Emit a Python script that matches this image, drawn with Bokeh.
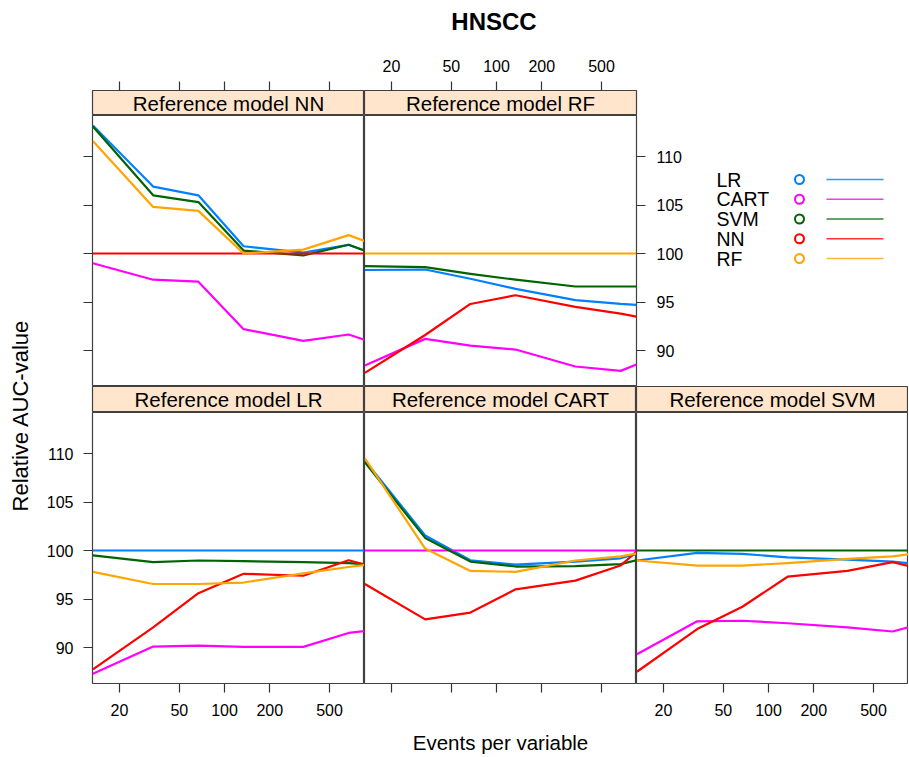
import math
from bokeh.plotting import figure
from bokeh.layouts import row, column
from bokeh.models import (Range1d, LogAxis, LinearAxis, FixedTicker,
                          PrintfTickFormatter, CustomJSTickFormatter,
                          ColumnDataSource)
from bokeh.core.properties import value
from bokeh.embed import file_html
from bokeh.resources import INLINE

FONT = "Liberation Sans"

# ---------------- data ----------------
epv = [13.3, 33.5, 67, 134, 335, 670, 855]          # events per variable
models = ["LR", "CART", "SVM", "NN", "RF"]
colors = ["#0080ff", "#ff00ff", "#006400", "#ff0000", "#ffa500"]
x_ticks = [20, 50, 100, 200, 500]
y_ticks = [90, 95, 100, 105, 110]

# Reference model NN
nn_LR   = [113.2, 106.9, 106.0, 100.75, 100.1, 100.9, 100.3]
nn_CART = [99.0, 97.3, 97.1, 92.2, 91.0, 91.65, 91.1]
nn_SVM  = [113.1, 106.0, 105.3, 100.3, 99.8, 100.9, 100.3]
nn_NN   = [100, 100, 100, 100, 100, 100, 100]
nn_RF   = [111.6, 104.8, 104.4, 100.0, 100.4, 101.9, 101.3]

# Reference model RF
rf_LR   = [98.3, 98.35, 97.4, 96.35, 95.2, 94.8, 94.7]
rf_CART = [88.45, 91.2, 90.5, 90.1, 88.35, 87.9, 88.55]
rf_SVM  = [98.7, 98.6, 97.9, 97.3, 96.6, 96.6, 96.6]
rf_NN   = [87.7, 91.6, 94.8, 95.7, 94.5, 93.8, 93.5]
rf_RF   = [100, 100, 100, 100, 100, 100, 100]

# Reference model LR
lr_LR   = [100, 100, 100, 100, 100, 100, 100]
lr_CART = [87.3, 90.1, 90.2, 90.07, 90.07, 91.5, 91.7]
lr_SVM  = [99.5, 98.8, 98.97, 98.9, 98.8, 98.7, 98.6]
lr_NN   = [87.75, 92.07, 95.6, 97.6, 97.4, 99.0, 98.55]
lr_RF   = [97.8, 96.55, 96.55, 96.7, 97.65, 98.3, 98.5]

# Reference model CART
cart_LR   = [109.3, 101.55, 99.0, 98.55, 98.86, 99.2, 99.65]
cart_CART = [100, 100, 100, 100, 100, 100, 100]
cart_SVM  = [109.1, 101.3, 98.86, 98.35, 98.4, 98.6, 99.0]
cart_NN   = [96.55, 92.9, 93.6, 96.0, 96.9, 98.45, 99.9]
cart_RF   = [109.5, 100.2, 97.9, 97.8, 98.97, 99.4, 99.7]

# Reference model SVM
svm_LR   = [98.97, 99.76, 99.66, 99.3, 99.07, 98.86, 98.7]
svm_CART = [89.3, 92.7, 92.76, 92.5, 92.07, 91.65, 92.1]
svm_SVM  = [100, 100, 100, 100, 100, 100, 100]
svm_NN   = [87.5, 91.9, 94.2, 97.3, 97.9, 98.8, 98.4]
svm_RF   = [98.97, 98.45, 98.45, 98.7, 99.14, 99.4, 99.6]

# ---------------- layout constants ----------------
X_LO, X_HI = 13.22, 855.0
Y_LO, Y_HI = 86.29, 114.23
FULL_W = 272
BORDER = "#404040"
STRIP_BG = "#ffe5cc"


def x_range(frame_w):
    end = X_LO * (X_HI / X_LO) ** (frame_w / FULL_W)
    return Range1d(X_LO, end)


def base_fig(w, h, xr, yr, log=True, bl=0, br=0, bt=0, bb=0):
    p = figure(width=w, height=h, x_range=xr, y_range=yr,
               x_axis_type="log" if log else "linear",
               x_axis_location=None, y_axis_location=None, title=None,
               toolbar_location=None, output_backend="svg",
               min_border_left=bl, min_border_right=br,
               min_border_top=bt, min_border_bottom=bb)
    p.grid.visible = False
    p.outline_line_color = BORDER
    p.outline_line_width = 1.2
    p.background_fill_color = "white"
    p.border_fill_color = "white"
    return p


def style_axis(ax, standoff):
    ax.major_tick_out = 9
    ax.major_tick_in = 0
    ax.minor_tick_out = 0
    ax.minor_tick_in = 0
    ax.axis_line_color = None
    ax.major_tick_line_color = "#333333"
    ax.major_tick_line_width = 1.2
    ax.major_label_text_font = FONT
    ax.major_label_text_color = "black"
    ax.major_label_text_font_size = "16px"
    ax.major_label_standoff = standoff


def fmt(labels):
    if labels:
        return PrintfTickFormatter(format="%d")
    return CustomJSTickFormatter(code="return ''")


def add_x_axis(p, place, labels, standoff=11):
    ax = LogAxis(ticker=FixedTicker(ticks=x_ticks), formatter=fmt(labels))
    style_axis(ax, standoff)
    p.add_layout(ax, place)


def add_y_axis(p, place, labels, standoff=10):
    ax = LinearAxis(ticker=FixedTicker(ticks=y_ticks), formatter=fmt(labels))
    style_axis(ax, standoff)
    p.add_layout(ax, place)


def strip_fig(name, w, fw, h, bl=0, br=0, bt=0):
    p = base_fig(w, h, x_range(fw), Range1d(0, 1), bl=bl, br=br, bt=bt)
    p.background_fill_color = STRIP_BG
    xm = math.sqrt(X_LO * X_HI)
    p.text(x=[xm], y=[0.5], text=["Reference model " + name],
           text_align="center", text_baseline="middle",
           text_font=value(FONT), text_font_size="20.5px", text_color="black")
    return p


def plot_fig(series, w, fw, h, bl=0, br=0, bb=0):
    p = base_fig(w, h, x_range(fw), Range1d(Y_LO, Y_HI), bl=bl, br=br, bb=bb)
    for vals, c in zip(series, colors):
        p.line(epv, vals, line_color=c, line_width=2.2, line_join="round")
    return p


# ---------------- row 1 ----------------
s_nn = strip_fig("NN", 328, FULL_W, 70, bl=56, bt=45)
add_x_axis(s_nn, "above", False)
p_nn = plot_fig([nn_LR, nn_CART, nn_SVM, nn_NN, nn_RF], 328, FULL_W, 271, bl=56)
add_y_axis(p_nn, "left", False)

s_rf = strip_fig("RF", 322, FULL_W, 70, br=50, bt=45)
add_x_axis(s_rf, "above", True, standoff=10)
p_rf = plot_fig([rf_LR, rf_CART, rf_SVM, rf_NN, rf_RF], 322, FULL_W, 271, br=50)
add_y_axis(p_rf, "right", True, standoff=11)

# legend
leg = figure(width=222, height=341, x_range=Range1d(686, 908),
             y_range=Range1d(386, 45), x_axis_location=None,
             y_axis_location=None, title=None, toolbar_location=None,
             output_backend="svg", min_border_left=0, min_border_right=0,
             min_border_top=0, min_border_bottom=0)
leg.grid.visible = False
leg.outline_line_color = None
leg_src = ColumnDataSource(dict(
    y=[179 + 19.75 * i for i in range(len(models))],
    label=models, color=colors))
leg.text(x=716, y="y", text="label", source=leg_src, text_align="left",
         text_baseline="middle", text_font=value(FONT),
         text_font_size="19.5px", text_color="black")
leg.scatter(x=799, y="y", source=leg_src, marker="circle", size=9,
            fill_color=None, line_color="color", line_width=2)
leg.segment(x0=826, x1=883, y0="y", y1="y", source=leg_src,
            line_color="color", line_width=1.5, line_alpha=0.8)

# ---------------- row 2 ----------------
s_lr = strip_fig("LR", 328, FULL_W, 26, bl=56)
p_lr = plot_fig([lr_LR, lr_CART, lr_SVM, lr_NN, lr_RF], 328, FULL_W, 308, bl=56, bb=37)
add_y_axis(p_lr, "left", True)
add_x_axis(p_lr, "below", True)

s_cart = strip_fig("CART", 272, FULL_W, 26)
p_cart = plot_fig([cart_LR, cart_CART, cart_SVM, cart_NN, cart_RF], 272, FULL_W, 308, bb=37)
add_x_axis(p_cart, "below", False)

s_svm = strip_fig("SVM", 272, FULL_W, 26)
p_svm = plot_fig([svm_LR, svm_CART, svm_SVM, svm_NN, svm_RF], 272, FULL_W, 308, bb=37)
add_x_axis(p_svm, "below", True)


# ---------------- text figures ----------------
def text_fig(w, h, x0, x1, y_top, y_bot):
    p = figure(width=w, height=h, x_range=Range1d(x0, x1),
               y_range=Range1d(y_bot, y_top), x_axis_location=None,
               y_axis_location=None, title=None, toolbar_location=None,
               output_backend="svg", min_border_left=0, min_border_right=0,
               min_border_top=0, min_border_bottom=0)
    p.grid.visible = False
    p.outline_line_color = None
    return p


title_f = text_fig(908, 45, 0, 908, 0, 45)
title_f.text(x=[493.5], y=[20.5], text=["HNSCC"], text_align="center",
             text_baseline="middle", text_font=value(FONT),
             text_font_size="24px", text_font_style="bold", text_color="black")

ylab_f = text_fig(36, 675, 0, 36, 45, 720)
ylab_f.text(x=[19.5], y=[415], text=["Relative AUC-value"], angle=math.pi / 2,
            text_align="center", text_baseline="middle", text_font=value(FONT),
            text_font_size="22px", text_color="black")

xlab_f = text_fig(908, 36, 0, 908, 720, 756)
xlab_f.text(x=[500], y=[742], text=["Events per variable"], text_align="center",
            text_baseline="middle", text_font=value(FONT),
            text_font_size="20.5px", text_color="black")

grid = column(
    row(column(s_nn, p_nn), column(s_rf, p_rf), leg),
    row(column(s_lr, p_lr), column(s_cart, p_cart), column(s_svm, p_svm)),
)
layout = column(title_f, row(ylab_f, grid), xlab_f)

open("out.html", "w").write(file_html(layout, INLINE))
